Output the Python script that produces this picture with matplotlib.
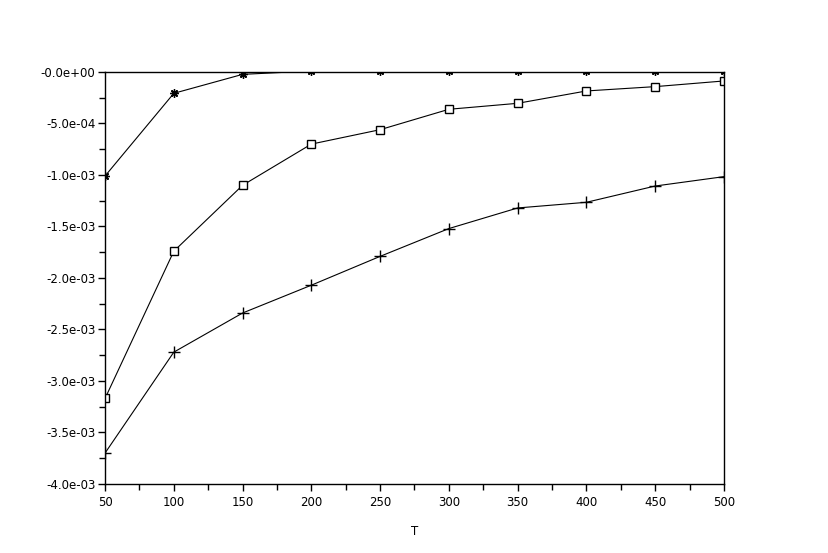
import matplotlib
matplotlib.use("Agg")
import matplotlib.pyplot as plt
from matplotlib.ticker import MultipleLocator

# data
T = [50, 100, 150, 200, 250, 300, 350, 400, 450, 500]
star_vals = [-1.01e-3, -2.07e-4, -2.3e-5, 1e-5, 1e-5, 1e-5, 1e-5, 1e-5, 1e-5, 1e-5]
square_vals = [-3.17e-3, -1.74e-3, -1.10e-3, -0.70e-3, -0.56e-3,
               -0.362e-3, -0.304e-3, -0.184e-3, -0.142e-3, -0.087e-3]
plus_vals = [-3.70e-3, -2.72e-3, -2.34e-3, -2.07e-3, -1.79e-3,
             -1.52e-3, -1.32e-3, -1.265e-3, -1.107e-3, -1.016e-3]

y_ticks = [0, -0.5e-3, -1.0e-3, -1.5e-3, -2.0e-3, -2.5e-3, -3.0e-3, -3.5e-3, -4.0e-3]
y_labels = ["-0.0e+00", "-5.0e-04", "-1.0e-03", "-1.5e-03", "-2.0e-03",
            "-2.5e-03", "-3.0e-03", "-3.5e-03", "-4.0e-03"]
x_ticks = [50, 100, 150, 200, 250, 300, 350, 400, 450, 500]

fig = plt.figure(figsize=(8.29, 5.53), dpi=100)
ax = fig.add_axes([0.1267, 0.1248, 0.7466, 0.745])

ax.plot(T, star_vals, color='k', lw=0.8, marker=(8, 2, 0), ms=6, mew=1.0)
ax.plot(T, square_vals, color='k', lw=0.8, marker='s', ms=5.5, mfc='white', mec='k', mew=1.0)
ax.plot(T, plus_vals, color='k', lw=0.8, marker='+', ms=8, mew=1.0)

ax.set_xlim(50, 500)
ax.set_ylim(-4.0e-3, 0)
ax.set_xticks(x_ticks)
ax.set_xticklabels([str(v) for v in x_ticks])
ax.set_yticks(y_ticks)
ax.set_yticklabels(y_labels)
ax.xaxis.set_minor_locator(MultipleLocator(25))
ax.yaxis.set_minor_locator(MultipleLocator(0.25e-3))

ax.tick_params(which='major', direction='out', length=5, width=1, labelsize=8.5, pad=2)
ax.tick_params(which='minor', direction='out', length=4, width=1)
ax.tick_params(axis='x', pad=4)

for sp in ax.spines.values():
    sp.set_linewidth(1)
    sp.set_color('k')

ax.set_xlabel("T", fontsize=8.5, labelpad=11)

fig.savefig("out.png", dpi=100)
